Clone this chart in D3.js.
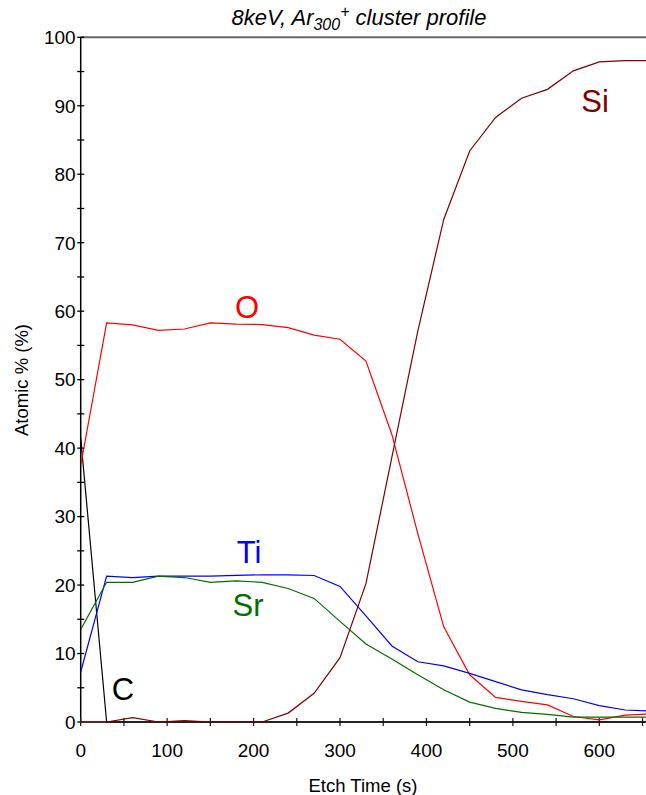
<!DOCTYPE html>
<html>
<head>
<meta charset="utf-8">
<script src="https://cdn.jsdelivr.net/npm/d3@7"></script>
<style>
  body { margin: 0; background: #fff; }
  svg text { font-family: "Liberation Sans", Arial, sans-serif; }
</style>
</head>
<body>
<div id="chart"></div>
<script>
// etch times (s) and atomic % per element
const times = [0, 30, 60, 90, 120, 150, 180, 210, 240, 270, 300, 330, 360, 390, 420, 450, 480, 510, 540, 570, 600, 630, 660];
const oVals  = [37.5, 58.3, 58.0, 57.2, 57.4, 58.3, 58.1, 58.05, 57.6, 56.5, 55.9, 52.7, 42.0, 27.5, 13.9, 6.9, 3.6, 3.0, 2.5, 0.8, 0.3, 1.0, 1.2];
const tiVals = [7.3, 21.3, 21.1, 21.3, 21.3, 21.3, 21.4, 21.5, 21.5, 21.4, 19.8, 15.5, 11.1, 8.8, 8.2, 7.1, 5.9, 4.7, 4.0, 3.4, 2.4, 1.75, 1.6];
const srVals = [13.5, 20.4, 20.4, 21.3, 21.1, 20.4, 20.6, 20.4, 19.5, 18.05, 14.7, 11.4, 9.2, 6.9, 4.7, 2.9, 2.0, 1.4, 1.1, 0.7, 0.7, 0.7, 0.7];
const cVals  = [41.5, 0, 0, 0, 0, 0, 0, 0, 0, 0, 0, 0, 0, 0, 0, 0, 0, 0, 0, 0, 0, 0, 0];
const siVals = [0, 0, 0.65, 0, 0.2, 0, 0, 0, 1.3, 4.2, 9.4, 20.2, 38.7, 57.1, 73.4, 83.4, 88.3, 91.1, 92.4, 95.1, 96.4, 96.6, 96.6];

const series = [
  {name: "C",  vals: cVals,  color: "#000000", lx: 123, ly: 700},
  {name: "O",  vals: oVals,  color: "#ff0000", lx: 247, ly: 318},
  {name: "Ti", vals: tiVals, color: "#0000ff", lx: 249, ly: 563},
  {name: "Sr", vals: srVals, color: "#006e00", lx: 248, ly: 616},
  {name: "Si", vals: siVals, color: "#800000", lx: 595, ly: 112}
];

const width = 646, height = 795;
const plotLeft = 80.7, plotRight = 646, plotTop = 37.3, plotBottom = 722;

const svg = d3.select("#chart").append("svg")
    .attr("width", width)
    .attr("height", height);

const x = d3.scaleLinear().domain([0, 654]).range([plotLeft, plotRight]);
const y = d3.scaleLinear().domain([0, 100]).range([plotBottom, plotTop]);

svg.append("defs").append("clipPath").attr("id", "plot")
  .append("rect")
    .attr("x", plotLeft).attr("y", plotTop - 2)
    .attr("width", plotRight - plotLeft).attr("height", plotBottom - plotTop + 4);

// top frame line
svg.append("line")
    .attr("x1", plotLeft).attr("x2", plotRight)
    .attr("y1", plotTop).attr("y2", plotTop)
    .attr("stroke", "#666").attr("stroke-width", 2);

// y axis
const yAxis = svg.append("g");
yAxis.append("line")
    .attr("x1", plotLeft).attr("x2", plotLeft)
    .attr("y1", plotTop).attr("y2", plotBottom)
    .attr("stroke", "#000").attr("stroke-width", 1.5);
yAxis.selectAll(".yt")
    .data(d3.range(0, 101, 5))
    .enter().append("line")
    .attr("x1", plotLeft - 3.5).attr("x2", plotLeft + 3.5)
    .attr("y1", d => y(d)).attr("y2", d => y(d))
    .attr("stroke", "#000").attr("stroke-width", 1.3);
yAxis.selectAll("text")
    .data(y.ticks(10))
    .enter().append("text")
    .attr("x", plotLeft - 5)
    .attr("y", d => y(d))
    .attr("dy", "0.36em")
    .attr("text-anchor", "end")
    .style("font-size", "19px")
    .text(d => d);

// x axis
const xAxis = svg.append("g");
xAxis.append("line")
    .attr("x1", plotLeft).attr("x2", plotRight)
    .attr("y1", plotBottom).attr("y2", plotBottom)
    .attr("stroke", "#444").attr("stroke-width", 2.2);
xAxis.selectAll(".xt")
    .data(d3.range(0, 651, 50))
    .enter().append("line")
    .attr("x1", d => x(d)).attr("x2", d => x(d))
    .attr("y1", plotBottom - 4).attr("y2", plotBottom + 4)
    .attr("stroke", "#222").attr("stroke-width", 1.3);
xAxis.selectAll("text")
    .data(d3.range(0, 601, 100))
    .enter().append("text")
    .attr("x", d => x(d))
    .attr("y", 757)
    .attr("text-anchor", "middle")
    .style("font-size", "19px")
    .text(d => d);

// lines
const line = d3.line()
    .x((d, i) => x(times[i]))
    .y(d => y(d));

const plot = svg.append("g").attr("clip-path", "url(#plot)");
plot.selectAll("path")
    .data(series)
    .enter().append("path")
    .attr("d", d => line(d.vals))
    .attr("fill", "none")
    .attr("stroke", d => d.color)
    .attr("stroke-width", 1.2);

svg.selectAll(".lbl")
    .data(series)
    .enter().append("text")
    .attr("class", "lbl")
    .attr("x", d => d.lx)
    .attr("y", d => d.ly)
    .attr("text-anchor", "middle")
    .attr("fill", d => d.color)
    .style("font-size", "31px")
    .text(d => d.name);

// title
const title = svg.append("text")
    .attr("x", 359).attr("y", 25)
    .attr("text-anchor", "middle")
    .style("font-size", "22px")
    .style("font-style", "italic");
title.append("tspan").text("8keV, Ar");
title.append("tspan").attr("dy", 5).style("font-size", "16px").text("300");
title.append("tspan").attr("dy", -13).style("font-size", "16px").text("+");
title.append("tspan").attr("dy", 8).text(" cluster profile");

// axis titles
svg.append("text")
    .attr("x", 363).attr("y", 792)
    .attr("text-anchor", "middle")
    .style("font-size", "18.5px")
    .text("Etch Time (s)");

svg.append("text")
    .attr("transform", "translate(28,380) rotate(-90)")
    .attr("text-anchor", "middle")
    .style("font-size", "18.5px")
    .text("Atomic % (%)");
</script>
</body>
</html>
